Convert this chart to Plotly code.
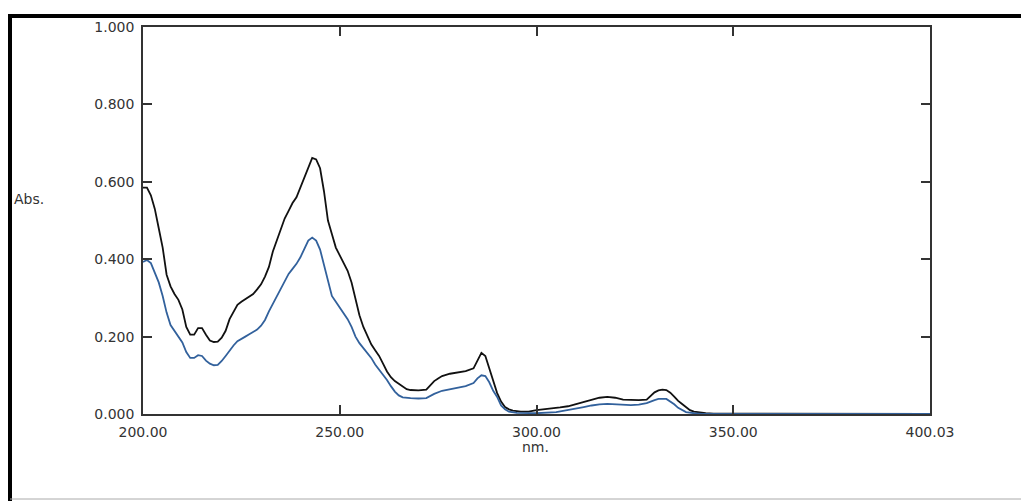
import plotly.graph_objects as go

# Black spectrum (nm, Abs)
black_nm = [200, 201, 202, 203, 204, 205, 206, 207, 208, 209, 210, 211, 212, 213, 214, 215, 216, 217, 218, 219,
            220, 221, 222, 223, 224, 225, 226, 227, 228, 229, 230, 231, 232, 233, 234, 235, 236, 237, 238, 239,
            240, 241, 242, 243, 244, 245, 246, 247, 248, 249, 250, 251, 252, 253, 254, 255, 256, 257, 258, 259,
            260, 261, 262, 263, 264, 265, 266, 267, 268, 270, 272, 273, 274, 275, 276, 278, 280, 282, 284, 285,
            286, 287, 288, 289, 290, 291, 292, 293, 294, 296, 298, 300, 302, 304, 306, 308, 310, 312, 314, 316,
            318, 320, 322, 324, 326, 328, 329, 330, 331, 332, 333, 334, 335, 336, 337, 338, 339, 340, 341, 343,
            345, 350, 360, 370, 380, 390, 400]
black_abs = [0.585, 0.585, 0.565, 0.53, 0.48, 0.43, 0.36, 0.33, 0.31, 0.295, 0.27, 0.225, 0.205, 0.205, 0.222, 0.222, 0.205, 0.19, 0.186, 0.187,
             0.197, 0.215, 0.245, 0.265, 0.282, 0.29, 0.297, 0.302, 0.31, 0.322, 0.335, 0.355, 0.38, 0.42, 0.45, 0.48, 0.505, 0.525, 0.545, 0.56,
             0.585, 0.615, 0.635, 0.662, 0.658, 0.635, 0.575, 0.5, 0.465, 0.43, 0.41, 0.39, 0.37, 0.34, 0.295, 0.255, 0.225, 0.2, 0.18, 0.165,
             0.15, 0.13, 0.11, 0.095, 0.085, 0.078, 0.07, 0.064, 0.062, 0.061, 0.063, 0.075, 0.085, 0.092, 0.098, 0.104, 0.108, 0.111, 0.118, 0.14,
             0.158, 0.15, 0.118, 0.08, 0.054, 0.032, 0.018, 0.012, 0.009, 0.006, 0.006, 0.01, 0.012, 0.014, 0.017, 0.02, 0.026, 0.031, 0.036, 0.042,
             0.044, 0.042, 0.037, 0.036, 0.036, 0.037, 0.046, 0.056, 0.061, 0.063, 0.062, 0.055, 0.045, 0.034, 0.026, 0.018, 0.01, 0.006, 0.004, 0.002,
             0.001, 0.001, 0.001, 0.0, 0.0, 0.0, 0.0]

# Blue spectrum (nm, Abs)
blue_nm = [200, 201, 202, 203, 204, 205, 206, 207, 208, 209, 210, 211, 212, 213, 214, 215, 216, 217, 218, 219,
           220, 221, 222, 223, 224, 225, 226, 227, 228, 229, 230, 231, 232, 233, 234, 235, 236, 237, 238, 239,
           240, 241, 242, 243, 244, 245, 246, 247, 248, 249, 250, 251, 252, 253, 254, 255, 256, 257, 258, 259,
           260, 261, 262, 263, 264, 265, 266, 268, 270, 272, 274, 276, 278, 280, 282, 284, 285, 286, 287, 288,
           289, 290, 291, 292, 293, 295, 300, 305, 308, 310, 312, 314, 316, 318, 320, 322, 324, 326, 328, 330,
           331, 333, 334, 335, 336, 337, 338, 340, 342, 400]
blue_abs = [0.393, 0.398, 0.39, 0.365, 0.34, 0.305, 0.262, 0.23, 0.215, 0.2, 0.185, 0.16, 0.145, 0.145, 0.152, 0.15, 0.138, 0.13, 0.126, 0.127,
            0.137, 0.15, 0.165, 0.177, 0.188, 0.195, 0.2, 0.206, 0.212, 0.218, 0.228, 0.243, 0.265, 0.285, 0.305, 0.325, 0.345, 0.362, 0.375, 0.388,
            0.405, 0.428, 0.448, 0.456, 0.448, 0.425, 0.385, 0.34, 0.305, 0.29, 0.275, 0.262, 0.245, 0.225, 0.2, 0.183, 0.17, 0.16, 0.145, 0.128,
            0.115, 0.102, 0.088, 0.072, 0.058, 0.048, 0.043, 0.041, 0.04, 0.041, 0.052, 0.06, 0.064, 0.068, 0.072, 0.08, 0.092, 0.1, 0.098, 0.082,
            0.06, 0.044, 0.022, 0.012, 0.006, 0.003, 0.002, 0.005, 0.01, 0.014, 0.018, 0.022, 0.025, 0.026, 0.025, 0.024, 0.023, 0.024, 0.028, 0.036,
            0.039, 0.039, 0.033, 0.025, 0.016, 0.01, 0.005, 0.002, 0.0, 0.0]

x_ticks = [200, 250, 300, 350, 400]
x_tick_labels = ["200.00", "250.00", "300.00", "350.00", "400.03"]
y_ticks = [0, 0.2, 0.4, 0.6, 0.8, 1.0]
y_tick_labels = ["0.000", "0.200", "0.400", "0.600", "0.800", "1.000"]

W, H = 1021, 501
L, R, T, B = 143, 930, 27, 414

def px(x):
    return (x - L) / (R - L)

def py(y):
    return (B - y) / (B - T)

font = dict(family="DejaVu Sans, Liberation Sans, Arial", size=14, color="#333333")

fig = go.Figure()
fig.add_trace(go.Scatter(x=black_nm, y=black_abs, mode="lines",
                         line=dict(color="#111111", width=1.8), cliponaxis=False, showlegend=False))
fig.add_trace(go.Scatter(x=blue_nm, y=blue_abs, mode="lines",
                         line=dict(color="#32619c", width=1.8), cliponaxis=False, showlegend=False))

axis_common = dict(showgrid=False, zeroline=False, showline=True, linecolor="#333333", linewidth=1.5,
                   mirror="ticks", ticks="inside", ticklen=9, tickwidth=1.5, tickcolor="#333333",
                   tickfont=font)

fig.update_xaxes(range=[200, 400], tickvals=x_ticks, ticktext=x_tick_labels, ticklabelstandoff=4, **axis_common)
fig.update_yaxes(range=[0, 1], tickvals=y_ticks, ticktext=y_tick_labels, ticklabelstandoff=4, **axis_common)

shapes = [
    # outer frame: thick top line
    dict(type="line", xref="paper", yref="paper", x0=px(8), x1=px(1021), y0=py(16), y1=py(16),
         line=dict(color="black", width=4)),
    # thick left line
    dict(type="line", xref="paper", yref="paper", x0=px(10), x1=px(10), y0=py(14), y1=py(501),
         line=dict(color="black", width=4)),
    # thin grey bottom line
    dict(type="line", xref="paper", yref="paper", x0=px(10), x1=px(1021), y0=py(499), y1=py(499),
         line=dict(color="#aaaaaa", width=1)),
]

annotations = [
    dict(text="Abs.", xref="paper", yref="paper", x=px(12), y=py(199), xanchor="left", yanchor="middle",
         showarrow=False, font=font),
    dict(text="nm.", xref="paper", yref="paper", x=px(535), y=py(447), xanchor="center", yanchor="middle",
         showarrow=False, font=font),
]

fig.update_layout(width=W, height=H, margin=dict(l=L, r=W - R, t=T, b=H - B),
                  paper_bgcolor="white", plot_bgcolor="white",
                  shapes=shapes, annotations=annotations)

fig.write_html("out.html")
